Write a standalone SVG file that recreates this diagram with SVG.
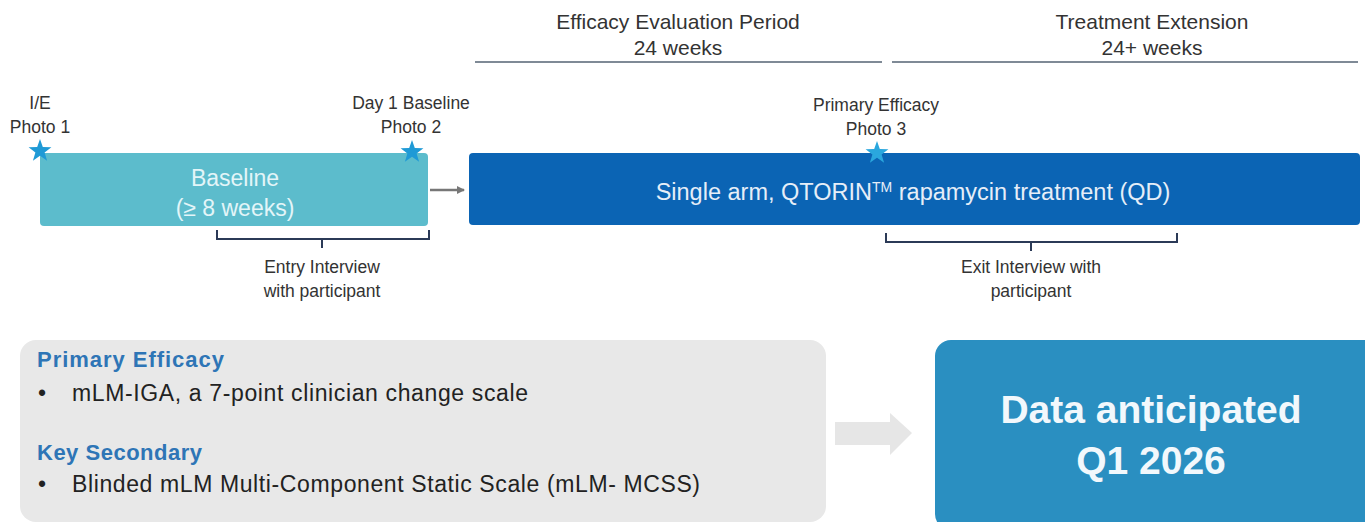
<svg xmlns="http://www.w3.org/2000/svg" width="1365" height="522" viewBox="0 0 1365 522">
<defs>
<style>
.n{font-family:"Liberation Sans",Arial,sans-serif;}
.hdr{font-size:21px;fill:#333;text-anchor:middle;}
.lbl{font-size:17.5px;fill:#333;text-anchor:middle;}
.brk{fill:none;stroke:#2B3A57;stroke-width:2;}
.star{fill:#1F9AD6;}
.body{font-size:23px;fill:#222;}
.head{font-size:22px;fill:#2E75B6;font-weight:bold;}
</style>
<marker id="ah" markerWidth="8" markerHeight="8" refX="7" refY="4" orient="auto" markerUnits="userSpaceOnUse">
<path d="M0,0 L8,4 L0,8 z" fill="#777"/>
</marker>
<path id="st" d="M0,-12 L2.8,-3.9 L11.4,-3.7 L4.6,1.5 L7.1,9.7 L0,4.8 L-7.1,9.7 L-4.6,1.5 L-11.4,-3.7 L-2.8,-3.9 z"/>
</defs>
<rect width="1365" height="522" fill="#FFFFFF"/>

<g id="period-efficacy">
<text class="n hdr" x="678" y="29">Efficacy Evaluation Period</text>
<text class="n hdr" x="678" y="55">24 weeks</text>
<line x1="475" y1="62" x2="882" y2="62" stroke="#7F8A96" stroke-width="2"/>
</g>
<g id="period-extension">
<text class="n hdr" x="1152" y="29">Treatment Extension</text>
<text class="n hdr" x="1152" y="55">24+ weeks</text>
<line x1="892" y1="62" x2="1358" y2="62" stroke="#7F8A96" stroke-width="2"/>
</g>

<g id="connectors">
<line x1="430" y1="190" x2="464" y2="190" stroke="#777" stroke-width="2.5" marker-end="url(#ah)"/>
<path d="M835,422 H890 V413 L912,433 L890,455 V445 H835 z" fill="#E6E6E6"/>
</g>

<g id="baseline">
<rect x="40" y="153" width="388" height="73" rx="4" fill="#5CBCCC"/>
<text class="n" x="235" y="186" font-size="23" fill="#E3F5F8" text-anchor="middle">Baseline</text>
<text class="n" x="235" y="216" font-size="23" fill="#E3F5F8" text-anchor="middle">(≥ 8 weeks)</text>
</g>

<g id="treatment">
<rect x="469" y="153" width="891" height="72" rx="4" fill="#0B64B4"/>
<text class="n" x="913" y="200" font-size="23.5" fill="#E6EEF8" text-anchor="middle">Single arm, QTORIN<tspan font-size="14" dy="-8">TM</tspan><tspan dy="8"> rapamycin treatment (QD)</tspan></text>
</g>

<g id="photo1">
<text class="n lbl" x="40" y="109">I/E</text>
<text class="n lbl" x="40" y="133">Photo 1</text>
<use href="#st" class="star" x="40" y="151"/>
</g>
<g id="photo2">
<text class="n lbl" x="411" y="109">Day 1 Baseline</text>
<text class="n lbl" x="411" y="133">Photo 2</text>
<use href="#st" class="star" x="412" y="152"/>
</g>
<g id="photo3">
<text class="n lbl" x="876" y="111">Primary Efficacy</text>
<text class="n lbl" x="876" y="135">Photo 3</text>
<use href="#st" x="877" y="153" style="fill:#2AA7DE"/>
</g>

<g id="entry-interview">
<path class="brk" d="M217,230 V239 H429 V230 M322,239 V248"/>
<text class="n lbl" x="322" y="273">Entry Interview</text>
<text class="n lbl" x="322" y="297">with participant</text>
</g>
<g id="exit-interview">
<path class="brk" d="M886,233 V242 H1177 V233 M1031,242 V251"/>
<text class="n lbl" x="1031" y="273">Exit Interview with</text>
<text class="n lbl" x="1031" y="297">participant</text>
</g>

<g id="endpoints">
<rect x="20" y="340" width="806" height="182" rx="16" fill="#E8E8E8"/>
<text class="n head" x="37" y="367" textLength="187">Primary Efficacy</text>
<text class="n body" x="38" y="401">•</text>
<text class="n body" x="72" y="401" textLength="456">mLM-IGA, a 7-point clinician change scale</text>
<text class="n head" x="37" y="460" textLength="165">Key Secondary</text>
<text class="n body" x="38" y="492">•</text>
<text class="n body" x="72" y="492" textLength="628">Blinded mLM Multi-Component Static Scale (mLM- MCSS)</text>
</g>

<g id="data">
<rect x="935" y="340" width="445" height="190" rx="16" fill="#2A8FC1"/>
<text x="1151" y="423" font-family="Liberation Sans, Arial, sans-serif" font-size="39" font-weight="bold" fill="#F2F8FC" text-anchor="middle">Data anticipated</text>
<text x="1151" y="474" font-family="Liberation Sans, Arial, sans-serif" font-size="39" font-weight="bold" fill="#F2F8FC" text-anchor="middle">Q1 2026</text>
</g>
</svg>
